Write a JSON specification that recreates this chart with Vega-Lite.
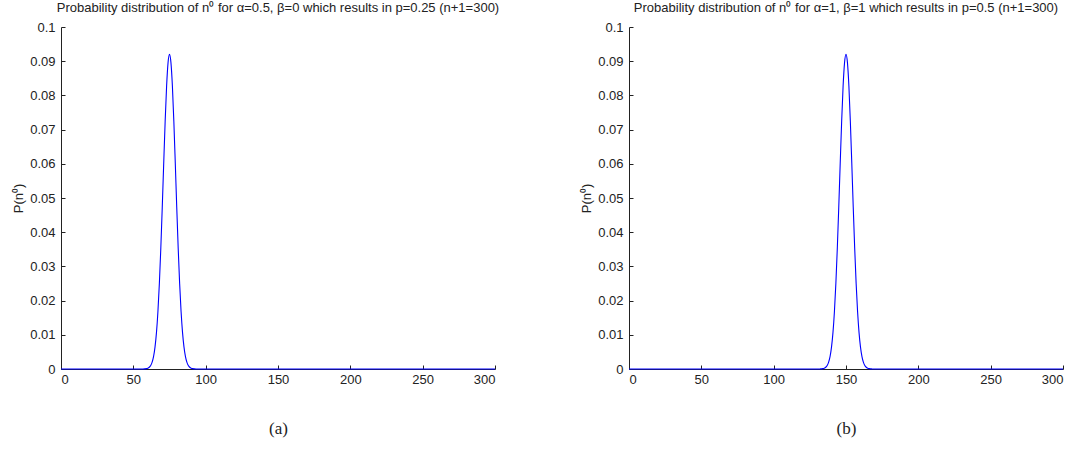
{
  "$schema": "https://vega.github.io/schema/vega-lite/v6.json",
  "background": "white",
  "padding": {"left": 12, "top": 2, "right": 5, "bottom": 5},
  "spacing": 80,
  "config": {
    "view": {"stroke": null},
    "font": "Liberation Sans",
    "axis": {
      "domainColor": "#222",
      "tickColor": "#222",
      "labelColor": "#222",
      "labelFont": "Liberation Sans",
      "labelFontSize": 13,
      "tickSize": -4,
      "grid": false
    },
    "title": {"font": "Liberation Sans", "fontSize": 13, "fontWeight": "normal", "color": "#222", "offset": 6}
  },
  "datasets": {
    "curves": [
      {"panel": "a", "n": 0, "p": 0}, {"panel": "a", "n": 55, "p": 0}, {"panel": "a", "n": 57, "p": 0.00002}, {"panel": "a", "n": 58, "p": 0.00004},
      {"panel": "a", "n": 59, "p": 0.0001}, {"panel": "a", "n": 60, "p": 0.00023}, {"panel": "a", "n": 61, "p": 0.00051}, {"panel": "a", "n": 62, "p": 0.00104},
      {"panel": "a", "n": 63, "p": 0.00201}, {"panel": "a", "n": 64, "p": 0.0037}, {"panel": "a", "n": 65, "p": 0.00647}, {"panel": "a", "n": 66, "p": 0.01071},
      {"panel": "a", "n": 67, "p": 0.01683}, {"panel": "a", "n": 68, "p": 0.02505}, {"panel": "a", "n": 69, "p": 0.03538}, {"panel": "a", "n": 70, "p": 0.04737},
      {"panel": "a", "n": 71, "p": 0.06017}, {"panel": "a", "n": 72, "p": 0.07245}, {"panel": "a", "n": 73, "p": 0.08273}, {"panel": "a", "n": 74, "p": 0.08959},
      {"panel": "a", "n": 75, "p": 0.092}, {"panel": "a", "n": 76, "p": 0.08959}, {"panel": "a", "n": 77, "p": 0.08273}, {"panel": "a", "n": 78, "p": 0.07245},
      {"panel": "a", "n": 79, "p": 0.06017}, {"panel": "a", "n": 80, "p": 0.04737}, {"panel": "a", "n": 81, "p": 0.03538}, {"panel": "a", "n": 82, "p": 0.02505},
      {"panel": "a", "n": 83, "p": 0.01683}, {"panel": "a", "n": 84, "p": 0.01071}, {"panel": "a", "n": 85, "p": 0.00647}, {"panel": "a", "n": 86, "p": 0.0037},
      {"panel": "a", "n": 87, "p": 0.00201}, {"panel": "a", "n": 88, "p": 0.00104}, {"panel": "a", "n": 89, "p": 0.00051}, {"panel": "a", "n": 90, "p": 0.00023},
      {"panel": "a", "n": 91, "p": 0.0001}, {"panel": "a", "n": 92, "p": 0.00004}, {"panel": "a", "n": 93, "p": 0.00002}, {"panel": "a", "n": 95, "p": 0},
      {"panel": "a", "n": 300, "p": 0},
      {"panel": "b", "n": 0, "p": 0}, {"panel": "b", "n": 130, "p": 0}, {"panel": "b", "n": 132, "p": 0.00002}, {"panel": "b", "n": 133, "p": 0.00004},
      {"panel": "b", "n": 134, "p": 0.0001}, {"panel": "b", "n": 135, "p": 0.00023}, {"panel": "b", "n": 136, "p": 0.00051}, {"panel": "b", "n": 137, "p": 0.00104},
      {"panel": "b", "n": 138, "p": 0.00201}, {"panel": "b", "n": 139, "p": 0.0037}, {"panel": "b", "n": 140, "p": 0.00647}, {"panel": "b", "n": 141, "p": 0.01071},
      {"panel": "b", "n": 142, "p": 0.01683}, {"panel": "b", "n": 143, "p": 0.02505}, {"panel": "b", "n": 144, "p": 0.03538}, {"panel": "b", "n": 145, "p": 0.04737},
      {"panel": "b", "n": 146, "p": 0.06017}, {"panel": "b", "n": 147, "p": 0.07245}, {"panel": "b", "n": 148, "p": 0.08273}, {"panel": "b", "n": 149, "p": 0.08959},
      {"panel": "b", "n": 150, "p": 0.092}, {"panel": "b", "n": 151, "p": 0.08959}, {"panel": "b", "n": 152, "p": 0.08273}, {"panel": "b", "n": 153, "p": 0.07245},
      {"panel": "b", "n": 154, "p": 0.06017}, {"panel": "b", "n": 155, "p": 0.04737}, {"panel": "b", "n": 156, "p": 0.03538}, {"panel": "b", "n": 157, "p": 0.02505},
      {"panel": "b", "n": 158, "p": 0.01683}, {"panel": "b", "n": 159, "p": 0.01071}, {"panel": "b", "n": 160, "p": 0.00647}, {"panel": "b", "n": 161, "p": 0.0037},
      {"panel": "b", "n": 162, "p": 0.00201}, {"panel": "b", "n": 163, "p": 0.00104}, {"panel": "b", "n": 164, "p": 0.00051}, {"panel": "b", "n": 165, "p": 0.00023},
      {"panel": "b", "n": 166, "p": 0.0001}, {"panel": "b", "n": 167, "p": 0.00004}, {"panel": "b", "n": 168, "p": 0.00002}, {"panel": "b", "n": 170, "p": 0},
      {"panel": "b", "n": 300, "p": 0}
    ]
  },
  "hconcat": [
    {
      "width": 434,
      "height": 342,
      "title": "Probability distribution of n⁰ for α=0.5, β=0 which results in p=0.25 (n+1=300)",
      "data": {"name": "curves"},
      "transform": [{"filter": "datum.panel === 'a'"}],
      "mark": {"type": "line", "color": "#0000ff", "strokeWidth": 1.1, "interpolate": "monotone"},
      "encoding": {
        "x": {"field": "n", "type": "quantitative", "scale": {"domain": [0, 300], "nice": false},
              "axis": {"values": [0, 50, 100, 150, 200, 250, 300], "labelPadding": 8, "title": "(a)", "titleFont": "Liberation Serif", "titleFontSize": 17, "titleFontWeight": "normal", "titleColor": "#222", "titlePadding": 34}},
        "y": {"field": "p", "type": "quantitative", "scale": {"domain": [0, 0.1], "nice": false},
              "axis": {"values": [0, 0.01, 0.02, 0.03, 0.04, 0.05, 0.06, 0.07, 0.08, 0.09, 0.1], "format": ".2~f", "labelPadding": 10, "title": "P(n⁰)", "titleFont": "Liberation Sans", "titleFontSize": 13, "titleFontWeight": "normal", "titleColor": "#222", "titlePadding": 4}}
      }
    },
    {
      "width": 434,
      "height": 342,
      "title": "Probability distribution of n⁰ for α=1, β=1 which results in p=0.5 (n+1=300)",
      "data": {"name": "curves"},
      "transform": [{"filter": "datum.panel === 'b'"}],
      "mark": {"type": "line", "color": "#0000ff", "strokeWidth": 1.1, "interpolate": "monotone"},
      "encoding": {
        "x": {"field": "n", "type": "quantitative", "scale": {"domain": [0, 300], "nice": false},
              "axis": {"values": [0, 50, 100, 150, 200, 250, 300], "labelPadding": 8, "title": "(b)", "titleFont": "Liberation Serif", "titleFontSize": 17, "titleFontWeight": "normal", "titleColor": "#222", "titlePadding": 34}},
        "y": {"field": "p", "type": "quantitative", "scale": {"domain": [0, 0.1], "nice": false},
              "axis": {"values": [0, 0.01, 0.02, 0.03, 0.04, 0.05, 0.06, 0.07, 0.08, 0.09, 0.1], "format": ".2~f", "labelPadding": 10, "title": "P(n⁰)", "titleFont": "Liberation Sans", "titleFontSize": 13, "titleFontWeight": "normal", "titleColor": "#222", "titlePadding": 4}}
      }
    }
  ]
}
